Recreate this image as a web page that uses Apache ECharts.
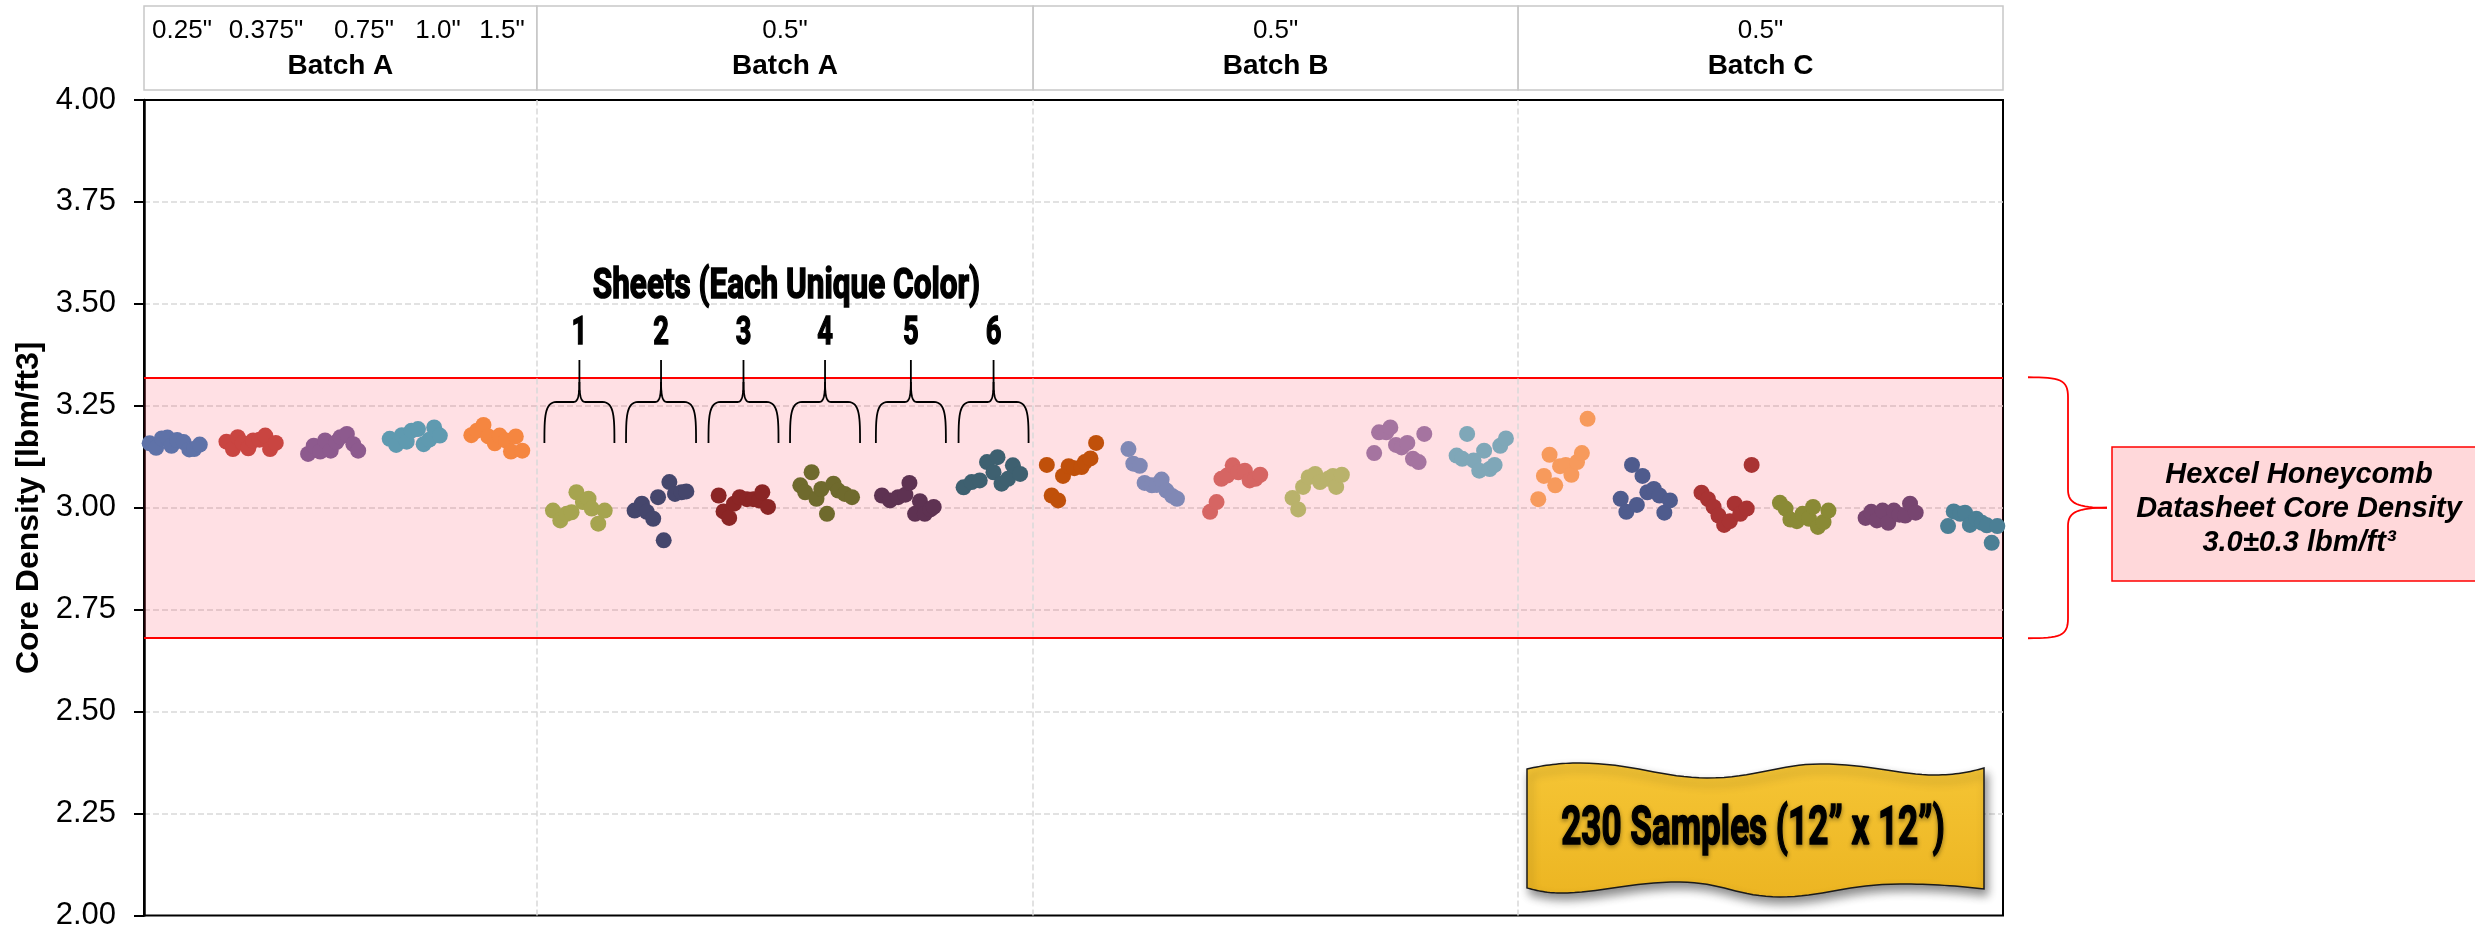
<!DOCTYPE html>
<html>
<head>
<meta charset="utf-8">
<script src="https://cdn.jsdelivr.net/npm/echarts@6/dist/echarts.min.js"></script>
<style>
html, body { margin: 0; padding: 0; background: #fff; }
#chart { width: 2475px; height: 931px; }
</style>
</head>
<body>
<div id="chart"></div>
<script>
// axis ranges
var yMin = 2.0, yMax = 4.0, yStep = 0.25;
var xMin = 0, xMax = 230;
// datasheet band 3.0 +/- 0.3 (as drawn)
var bandLow = 2.68, bandHigh = 3.32, bandMid = 3.0;
// section separators (sample position)
var sectionBreaks = [48.6, 110, 170];
var headerSizes = ['0.25"', '0.375"', '0.75"', '1.0"', '1.5"'];
var headerTop = ['', '0.5"', '0.5"', '0.5"'];
var headerBatch = ['Batch A', 'Batch A', 'Batch B', 'Batch C'];
var sheetNames = ['1', '2', '3', '4', '5', '6'];

// Batch A, cell size 0.25" .. 1.5"  [sample position, density]
var sizesA = [
  [[0.7,3.158],[1.5,3.147],[2.2,3.170],[2.9,3.172],[3.4,3.152],[4.1,3.166],[4.9,3.161],[5.6,3.143],[6.2,3.144],[6.9,3.155]],
  [[10.2,3.162],[11.0,3.144],[11.6,3.173],[12.2,3.159],[12.9,3.146],[13.5,3.165],[14.3,3.167],[15.0,3.177],[15.6,3.144],[16.3,3.159]],
  [[20.3,3.132],[21.0,3.152],[21.8,3.138],[22.4,3.165],[23.1,3.140],[23.8,3.161],[24.3,3.173],[25.1,3.181],[25.9,3.156],[26.5,3.140]],
  [[30.4,3.169],[31.2,3.154],[31.9,3.178],[32.5,3.162],[33.1,3.189],[33.9,3.193],[34.6,3.156],[35.3,3.167],[35.9,3.197],[36.6,3.177]],
  [[40.5,3.178],[41.2,3.189],[42.0,3.203],[42.6,3.175],[43.4,3.158],[44.0,3.177],[44.8,3.165],[45.4,3.138],[46.0,3.175],[46.8,3.140]]
];
// 0.5" Batch A, sheets 1-6
var sheetsA = [
  [[50.6,2.993],[51.5,2.969],[52.3,2.985],[52.9,2.989],[53.5,3.038],[54.3,3.014],[55.0,3.022],[55.4,2.998],[56.2,2.961],[57.0,2.993]],
  [[60.7,2.993],[61.6,3.010],[62.2,2.990],[63.0,2.973],[63.6,3.026],[64.3,2.920],[65.0,3.063],[65.7,3.034],[66.5,3.038],[67.1,3.040]],
  [[71.1,3.030],[71.7,2.991],[72.4,2.975],[73.0,3.010],[73.7,3.026],[74.6,3.021],[75.4,3.021],[76.1,3.018],[76.5,3.038],[77.2,3.002]],
  [[81.2,3.055],[81.8,3.038],[82.6,3.087],[83.2,3.022],[83.8,3.046],[84.5,2.985],[85.3,3.059],[85.9,3.042],[86.7,3.034],[87.6,3.026]],
  [[91.3,3.030],[92.3,3.018],[93.3,3.026],[94.2,3.032],[94.7,3.061],[95.4,2.985],[96.0,3.016],[96.6,2.985],[97.3,2.996],[97.7,3.002]],
  [[101.4,3.050],[102.4,3.063],[103.4,3.067],[104.3,3.112],[105.1,3.087],[105.6,3.124],[106.1,3.059],[106.9,3.071],[107.5,3.104],[108.4,3.083]]
];
// 0.5" Batch B
var sheetsB = [
  [[111.7,3.105],[112.3,3.030],[113.1,3.018],[113.7,3.078],[114.4,3.102],[115.1,3.097],[116.0,3.100],[116.4,3.112],[117.1,3.121],[117.8,3.159]],
  [[121.8,3.144],[122.4,3.108],[123.2,3.103],[123.8,3.061],[124.7,3.055],[125.3,3.056],[125.9,3.069],[126.5,3.042],[127.2,3.029],[127.8,3.022]],
  [[131.9,2.990],[132.7,3.014],[133.3,3.071],[134.0,3.079],[134.7,3.104],[135.4,3.087],[136.2,3.091],[136.8,3.067],[137.5,3.071],[138.1,3.081]],
  [[142.1,3.024],[142.8,2.996],[143.4,3.051],[144.1,3.075],[144.9,3.083],[145.5,3.063],[146.5,3.071],[147.1,3.078],[147.5,3.051],[148.2,3.081]],
  [[152.2,3.134],[152.8,3.185],[153.7,3.185],[154.2,3.197],[154.9,3.154],[155.6,3.148],[156.3,3.159],[157.0,3.120],[157.7,3.112],[158.4,3.181]],
  [[162.4,3.128],[163.1,3.120],[163.7,3.181],[164.5,3.116],[165.2,3.091],[165.8,3.140],[166.5,3.095],[167.1,3.105],[167.8,3.152],[168.5,3.170]]
];
// 0.5" Batch C
var sheetsC = [
  [[172.5,3.021],[173.2,3.078],[173.9,3.130],[174.6,3.055],[175.2,3.102],[175.9,3.105],[176.6,3.081],[177.3,3.112],[177.9,3.134],[178.6,3.218]],
  [[182.7,3.022],[183.4,2.990],[184.1,3.105],[184.7,3.007],[185.4,3.078],[186.0,3.038],[186.8,3.046],[187.5,3.030],[188.1,2.988],[188.8,3.018]],
  [[192.7,3.037],[193.5,3.021],[194.2,3.002],[194.8,2.981],[195.5,2.958],[196.2,2.967],[196.8,3.010],[197.5,2.985],[198.3,2.998],[198.9,3.105]],
  [[202.4,3.012],[203.1,2.998],[203.7,2.971],[204.5,2.967],[205.2,2.985],[206.0,2.973],[206.5,3.002],[207.1,2.953],[207.8,2.965],[208.4,2.993]],
  [[213.0,2.975],[213.7,2.990],[214.4,2.969],[215.1,2.993],[215.8,2.963],[216.5,2.993],[217.2,2.983],[217.9,2.981],[218.5,3.010],[219.2,2.988]],
  [[223.2,2.955],[223.9,2.991],[224.7,2.985],[225.3,2.988],[225.9,2.958],[226.7,2.973],[227.4,2.963],[228.0,2.957],[228.6,2.914],[229.3,2.955]]
];

var colorsSizes = ['#5F72A8', '#C94541', '#8D5A8E', '#5F9AB0', '#F58640'];
var colorsA = ['#A6A44F', '#45466C', '#8B2525', '#6F6A2D', '#5E3252', '#3E6070'];
var colorsB = ['#C0500A', '#8088B5', '#D66563', '#B9B26B', '#A574A0', '#7FA7B8'];
var colorsC = ['#F79A5C', '#4F5B8D', '#A93333', '#8A8A35', '#774570', '#4B7F95'];

var chart = echarts.init(document.getElementById('chart'));
var FONT = 'Liberation Sans, Arial, sans-serif';

var series = [];
// background band + separators
series.push({
  type: 'scatter',
  data: [],
  z: 1,
  silent: true,
  markArea: {
    silent: true,
    itemStyle: { color: 'rgba(255,0,30,0.12)' },
    data: [[{ yAxis: bandLow }, { yAxis: bandHigh }]]
  },
  markLine: {
    silent: true,
    symbol: 'none',
    label: { show: false },
    data: [
      { yAxis: bandLow, lineStyle: { color: '#FF0000', width: 2, type: 'solid' } },
      { yAxis: bandHigh, lineStyle: { color: '#FF0000', width: 2, type: 'solid' } }
    ].concat(sectionBreaks.map(function (b) {
      return { xAxis: b, lineStyle: { color: '#D9D9D9', width: 1.5, type: 'dashed' } };
    }))
  }
});

function addGroups(groups, colors) {
  groups.forEach(function (g, i) {
    series.push({
      type: 'scatter',
      data: g,
      symbolSize: 16,
      z: 3,
      itemStyle: { color: colors[i], opacity: 1 }
    });
  });
}
addGroups(sizesA, colorsSizes);
addGroups(sheetsA, colorsA);
addGroups(sheetsB, colorsB);
addGroups(sheetsC, colorsC);

chart.setOption({
  animation: false,
  backgroundColor: '#fff',
  grid: { left: 144, right: 472, top: 100, bottom: 13, show: true, borderColor: '#000', borderWidth: 2, backgroundColor: 'transparent' },
  xAxis: {
    type: 'value', min: xMin, max: xMax,
    axisLine: { show: false }, axisTick: { show: false }, axisLabel: { show: false }, splitLine: { show: false }
  },
  yAxis: {
    type: 'value', min: yMin, max: yMax, interval: yStep,
    name: 'Core Density [lbm/ft3]',
    nameLocation: 'middle',
    nameGap: 96,
    nameTextStyle: { fontSize: 32, fontWeight: 'bold', fontFamily: FONT, color: '#000' },
    axisLine: { show: true, lineStyle: { color: '#000', width: 2.5 } },
    axisTick: { show: true, inside: false, length: 10, lineStyle: { color: '#000', width: 2 } },
    axisLabel: { fontSize: 31, fontFamily: FONT, color: '#000', margin: 28, formatter: function (v) { return v.toFixed(2); } },
    splitLine: { show: true, showMinLine: false, showMaxLine: false, lineStyle: { type: 'dashed', color: '#D9D9D9', width: 1.5 } }
  },
  series: series
});

function px(x, y) { return chart.convertToPixel({ gridIndex: 0 }, [x, y]); }

// sample a path made of line / cubic segments into points
function trace(start, segs) {
  var pts = [start.slice()], cur = start.slice();
  segs.forEach(function (s) {
    if (s[0] === 'L') { cur = [s[1], s[2]]; pts.push(cur); return; }
    var p1 = [s[1], s[2]], p2 = [s[3], s[4]], p3 = [s[5], s[6]], p0 = cur;
    for (var k = 1; k <= 16; k++) {
      var t = k / 16, u = 1 - t;
      pts.push([
        u * u * u * p0[0] + 3 * u * u * t * p1[0] + 3 * u * t * t * p2[0] + t * t * t * p3[0],
        u * u * u * p0[1] + 3 * u * u * t * p1[1] + 3 * u * t * t * p2[1] + t * t * t * p3[1]
      ]);
    }
    cur = p3;
  });
  return pts;
}

var graphics = [];
function text(x, y, str, opt) {
  var st = {
    text: str, x: 0, y: 0, fill: '#000',
    fontSize: opt.size, fontWeight: opt.weight || 'normal', fontStyle: opt.style || 'normal',
    fontFamily: opt.family || FONT,
    align: 'center', verticalAlign: 'middle'
  };
  if (opt.lineHeight) st.lineHeight = opt.lineHeight;
  if (opt.heavy) { st.stroke = '#000'; st.lineWidth = opt.heavy; }
  if (opt.shadow) { st.textShadowBlur = 4; st.textShadowColor = 'rgba(0,0,0,0.35)'; st.textShadowOffsetY = 2; }
  graphics.push({ type: 'text', x: x, y: y, scaleX: opt.scaleX || 1, z: 20, style: st });
}
function line(pts, color, w) {
  graphics.push({ type: 'polyline', shape: { points: pts }, style: { fill: null, stroke: color, lineWidth: w }, z: 15 });
}

// header cells
var bounds = [xMin].concat(sectionBreaks, [xMax]);
for (var i = 0; i < 4; i++) {
  var l = px(bounds[i], yMax)[0], r = px(bounds[i + 1], yMax)[0];
  graphics.push({ type: 'rect', shape: { x: l, y: 6, width: r - l, height: 84 }, style: { fill: 'none', stroke: '#C8C8C8', lineWidth: 1.5 }, z: 10 });
  if (headerTop[i]) text((l + r) / 2, 31, headerTop[i], { size: 26 });
  text((l + r) / 2, 66, headerBatch[i], { size: 28, weight: 'bold' });
}
var sizeLabelX = [182, 266, 364, 438, 502];
headerSizes.forEach(function (s, k) { text(sizeLabelX[k], 31, s, { size: 26 }); });

// sheet braces over 0.5" Batch A
function mean(g) { return g.reduce(function (a, p) { return a + p[0]; }, 0) / g.length; }
var centers = sheetsA.map(function (g) { return px(mean(g), yMax)[0]; });
var stemTop = 360, curlY = 382, hY = 402, endY = 443, half = 35;
centers.forEach(function (cx, k) {
  var x0 = cx - half, x1 = cx + half;
  line(trace([x0, endY], [
    ['C', x0, endY - 25, x0, hY, x0 + 12, hY],
    ['L', cx - 6, hY],
    ['C', cx - 1, hY, cx, hY - 8, cx, curlY],
    ['L', cx, stemTop]
  ]), '#000', 1.8);
  line(trace([cx, curlY], [
    ['C', cx, hY - 8, cx + 1, hY, cx + 6, hY],
    ['L', x1 - 12, hY],
    ['C', x1, hY, x1, endY - 25, x1, endY]
  ]), '#000', 1.8);
  text(cx, 334, sheetNames[k], { size: 38, weight: 'bold', family: 'Roboto', scaleX: 0.72, heavy: 1.4 });
});
text((centers[0] + centers[5]) / 2, 287, 'Sheets (Each Unique Color)', { size: 42, weight: 'bold', family: 'Roboto', scaleX: 0.75, heavy: 1.6 });

// right red brace + datasheet box
var yT = px(xMax, bandHigh)[1], yB = px(xMax, bandLow)[1], yM = px(xMax, bandMid)[1];
var bx0 = 2028, bxs = 2068, bxt = 2107;
line(trace([bx0, yT], [
  ['C', bxs - 8, yT, bxs, yT + 2, bxs, yT + 20],
  ['L', bxs, yM - 18],
  ['C', bxs, yM - 4, bxs + 10, yM, bxt, yM]
]), '#FF0000', 1.8);
line(trace([bxt, yM], [
  ['C', bxs + 10, yM, bxs, yM + 4, bxs, yM + 18],
  ['L', bxs, yB - 20],
  ['C', bxs, yB - 2, bxs - 8, yB, bx0, yB]
]), '#FF0000', 1.8);
graphics.push({ type: 'rect', shape: { x: 2112, y: 447, width: 400, height: 134 }, style: { fill: '#FFD8DA', stroke: '#FF0000', lineWidth: 1.5 }, z: 15 });
text(2299, 509, 'Hexcel Honeycomb\nDatasheet Core Density\n3.0\u00B10.3 lbm/ft\u00B3', { size: 29, weight: 'bold', style: 'italic', lineHeight: 34 });

// yellow banner
var wave = trace([1527, 769], [
  ['C', 1545, 765, 1560, 763, 1580, 763],
  ['C', 1630, 763, 1665, 778, 1707, 778],
  ['C', 1755, 778, 1780, 764, 1820, 764],
  ['C', 1870, 764, 1900, 775, 1935, 775],
  ['C', 1955, 775, 1970, 772, 1984, 768],
  ['L', 1984, 889],
  ['C', 1960, 886, 1930, 884, 1900, 884],
  ['C', 1850, 884, 1820, 897, 1780, 897],
  ['C', 1740, 897, 1720, 882, 1680, 882],
  ['C', 1630, 882, 1600, 893, 1560, 893],
  ['C', 1545, 893, 1535, 890, 1527, 888]
]);
graphics.push({
  type: 'polygon', shape: { points: wave }, z: 15,
  style: {
    fill: { type: 'linear', x: 0, y: 0, x2: 0, y2: 1, colorStops: [{ offset: 0, color: '#F5C535' }, { offset: 1, color: '#ECB522' }] },
    stroke: '#1a1a1a', lineWidth: 1.5,
    shadowBlur: 10, shadowColor: 'rgba(0,0,0,0.45)', shadowOffsetX: 3, shadowOffsetY: 6
  }
});
text(1753, 830, '230 Samples (12\u201D x 12\u201D)', { size: 54, weight: 'bold', family: 'Roboto', scaleX: 0.65, heavy: 1.6, shadow: true });

chart.setOption({ graphic: { elements: graphics } });
</script>
</body>
</html>
